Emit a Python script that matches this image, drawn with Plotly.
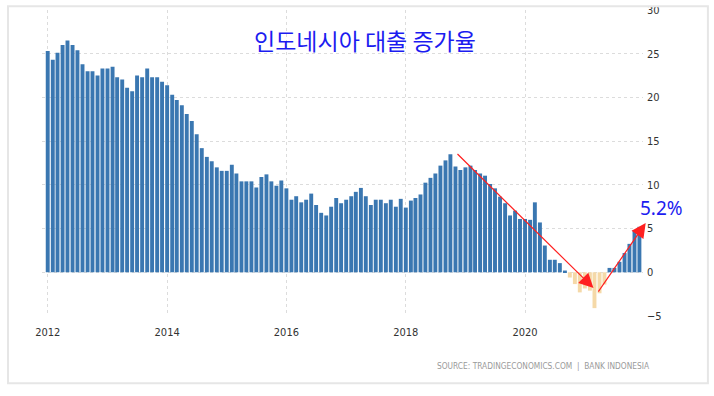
import plotly.graph_objects as go
import pandas as pd

# Monthly loan growth, Indonesia (% YoY), Jan 2012 - Dec 2021
months = pd.date_range("2012-01-01", "2021-12-01", freq="MS")
values = [
    25.3, 24.3, 25.1, 26.0, 26.5, 26.0, 25.4, 23.8, 23.0, 23.0, 22.5, 23.3,   # 2012
    23.3, 23.5, 22.3, 22.05, 21.1, 20.7, 22.5, 22.3, 23.3, 22.3, 22.3, 21.8,  # 2013
    21.4, 20.3, 19.7, 19.1, 18.1, 17.3, 15.8, 14.2, 13.2, 12.7, 12.0, 11.6,   # 2014
    11.6, 12.3, 11.3, 10.4, 10.4, 10.4, 9.7, 10.9, 11.2, 10.4, 9.9, 10.5,     # 2015
    9.6, 8.3, 8.7, 8.0, 8.3, 9.0, 7.7, 6.8, 6.5, 7.5, 8.5, 7.9,               # 2016
    8.3, 8.7, 9.2, 9.65, 8.7, 7.7, 8.3, 8.3, 7.9, 8.3, 7.5, 8.4,              # 2017
    7.4, 8.2, 8.5, 8.9, 10.25, 10.8, 11.3, 12.2, 12.8, 13.5, 12.1, 11.7,      # 2018
    12.0, 12.2, 11.7, 11.3, 11.05, 10.1, 9.6, 8.65, 7.9, 6.5, 7.05, 6.1,      # 2019
    6.1, 6.0, 8.0, 5.7, 3.06, 1.43, 1.43, 1.05, 0.2, -0.6, -1.35, -2.3,       # 2020
    -1.85, -2.1, -4.1, -2.4, -1.4, 0.5, 0.5, 1.2, 2.2, 3.25, 4.8, 5.2,        # 2021
]
y_ticks = [-5, 0, 5, 10, 15, 20, 25, 30]

title_text = "인도네시아 대출 증가율"
last_label = "5.2%"
source_text = "SOURCE: TRADINGECONOMICS.COM  |  BANK INDONESIA"

BLUE = "#3a77b1"
TAN = "#f5d9a8"
colors = [BLUE if v >= 0 else TAN for v in values]

fig = go.Figure()
fig.add_trace(go.Bar(
    x=months, y=values,
    marker=dict(color=colors, line=dict(width=0)),
    width=24 * 24 * 3600 * 1000,
    hoverinfo="x+y",
))

tick_font = dict(family="Liberation Sans Narrow, DejaVu Sans Condensed, sans-serif",
                 size=11, color="#333333")

fig.update_layout(
    width=714, height=396,
    margin=dict(l=42, r=71, t=10, b=80),
    paper_bgcolor="white", plot_bgcolor="white",
    showlegend=False,
    bargap=0.2,
    xaxis=dict(
        type="date",
        range=["2011-11-27", "2021-12-23"],
        tick0="2012-01-01", dtick="M24", tickformat="%Y",
        showgrid=True, gridcolor="#dcdcdc", griddash="dot", gridwidth=1,
        zeroline=False, showline=False, automargin=False,
        ticks="", ticklabelstandoff=8,
        tickfont=tick_font,
    ),
    yaxis=dict(
        side="right",
        range=[-5, 30],
        tickvals=y_ticks,
        showgrid=True, gridcolor="#dcdcdc", griddash="dot", gridwidth=1,
        zeroline=False, showline=False, automargin=False,
        ticks="", ticklabelstandoff=3,
        tickfont=tick_font,
    ),
)

# Frame and top cover
fig.add_shape(type="rect", xref="paper", yref="paper",
              x0=-0.09, x1=1.2, y0=1.013, y1=1.1,
              fillcolor="white", line=dict(width=0), layer="above")
fig.add_shape(type="rect", xref="paper", yref="paper",
              x0=-0.0566, x1=1.108, y0=-0.22, y1=1.012,
              line=dict(color="#e6e6e6", width=2), layer="above")

# Title
fig.add_annotation(text=title_text, xref="paper", yref="paper",
                   x=0.537, y=0.901, xanchor="center", yanchor="middle",
                   showarrow=False,
                   font=dict(family="Noto Sans CJK KR, sans-serif", size=23, color="#1c1cf0"))

# Last value label
fig.add_annotation(text=last_label, xref="paper", yref="paper",
                   x=1.03, y=0.352, xanchor="center", yanchor="middle",
                   showarrow=False,
                   font=dict(family="Noto Sans, sans-serif", size=19, color="#1c1cf0"))

# Source
fig.add_annotation(text=source_text, xref="paper", yref="paper",
                   x=1.015, y=-0.165, xanchor="right", yanchor="middle",
                   showarrow=False,
                   font=dict(family="Liberation Sans Narrow, DejaVu Sans Condensed, sans-serif",
                             size=8.3, color="#9a9a9a"))

# Red arrows
fig.add_annotation(xref="paper", yref="paper", x=0.9176, y=0.0913,
                   ax=-137.5, ay=-135.5, axref="pixel", ayref="pixel",
                   text="", showarrow=True, arrowhead=2, arrowsize=2.4,
                   arrowwidth=1.2, arrowcolor="#ff2020", standoff=0)
fig.add_annotation(xref="paper", yref="paper", x=1.0045, y=0.3038,
                   ax=-48.4, ay=70, axref="pixel", ayref="pixel",
                   text="", showarrow=True, arrowhead=2, arrowsize=2.4,
                   arrowwidth=1.2, arrowcolor="#ff2020", standoff=0)

fig.write_html("out.html", config={"displayModeBar": False},
               post_script="document.body.style.margin='0px';")
